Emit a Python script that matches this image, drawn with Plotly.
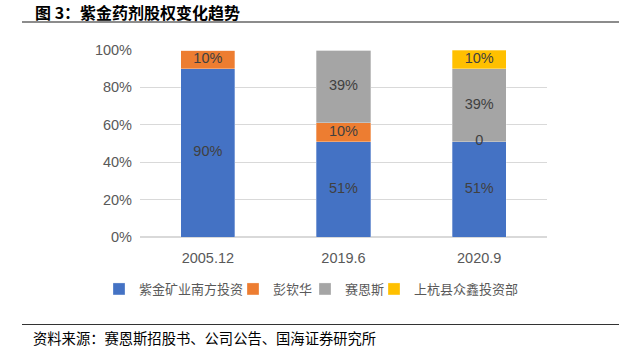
import plotly.graph_objects as go

categories = ["2005.12", "2019.6", "2020.9"]
series_names = ["紫金矿业南方投资", "彭钦华", "赛恩斯", "上杭县众鑫投资部"]
s_zijin = [90, 51, 51]
s_peng = [10, 10, 0]
s_sains = [0, 39, 39]
s_shanghang = [0, 0, 10]
colors = ["#4472C4", "#ED7D31", "#A5A5A5", "#FFC000"]
title_text = "图 3：紫金药剂股权变化趋势"
source_text = "资料来源：赛恩斯招股书、公司公告、国海证券研究所"

series_vals = [s_zijin, s_peng, s_sains, s_shanghang]

W, H = 628, 352
ml, mr, mt, mb = 140, 81, 50, 115
PW, PH = W - ml - mr, H - mt - mb


def px2x(p):
    return (p - ml) / PW


def py2y(p):
    return (H - mb - p) / PH


legend_ids = ["legend", "legend2", "legend3", "legend4"]
legend_left_px = [99, 233, 305, 374]

fig = go.Figure()
for name, vals, col, lid in zip(series_names, series_vals, colors, legend_ids):
    fig.add_trace(go.Bar(
        x=categories, y=vals, name=name, legend=lid,
        marker=dict(color=col, line=dict(color="rgba(255,255,255,0.6)", width=0.5)),
        width=0.4, hoverinfo="skip"))

# segment labels (the zero orange share of 2020.9 is labelled "0" as in the source)
base = [0, 0, 0]
lx, ly, lt = [], [], []
for si, vals in enumerate(series_vals):
    for i, v in enumerate(vals):
        show = v > 0 or (si == 1 and base[i] > 0 and series_vals[3][i] > 0)
        if show:
            lx.append(categories[i])
            ly.append(base[i] + v / 2)
            lt.append(f"{v}%" if v > 0 else "0")
        base[i] += v

fig.add_trace(go.Scatter(x=lx, y=ly, text=lt, mode="text", showlegend=False,
                         textfont=dict(family="Arial, Liberation Sans, sans-serif", size=14.5, color="#404040"),
                         hoverinfo="skip"))

legend_font = dict(family="Noto Sans CJK SC", size=13, color="#595959")
layout_legends = {}
for lid, lpx in zip(legend_ids, legend_left_px):
    layout_legends[lid] = dict(orientation="h", x=px2x(lpx), xanchor="left",
                               y=py2y(289), yanchor="middle", font=legend_font,
                               itemwidth=30, itemclick=False, bgcolor="rgba(0,0,0,0)")

fig.update_layout(
    width=W, height=H, barmode="stack",
    margin=dict(l=ml, r=mr, t=mt, b=mb),
    paper_bgcolor="white", plot_bgcolor="white",
    showlegend=True,
    font=dict(family="Arial, Liberation Sans, sans-serif"),
    xaxis=dict(showgrid=False, showline=False, ticks="", ticklabelstandoff=10,
               tickfont=dict(size=14.5, color="#595959")),
    yaxis=dict(range=[0, 100], dtick=20, ticksuffix="%", showgrid=True, gridcolor="#D9D9D9",
               gridwidth=1, zeroline=True, zerolinecolor="#D9D9D9", showline=False, ticks="",
               ticklabelstandoff=7, tickfont=dict(size=14.5, color="#595959")),
    **layout_legends,
)

fig.add_annotation(text="<b>" + title_text + "</b>", xref="paper", yref="paper",
                   x=px2x(33), y=py2y(12),
                   xanchor="left", yanchor="middle", showarrow=False,
                   font=dict(family="Noto Sans CJK SC", size=16, color="#000000"))
fig.add_annotation(text=source_text, xref="paper", yref="paper",
                   x=px2x(31), y=py2y(337),
                   xanchor="left", yanchor="middle", showarrow=False,
                   font=dict(family="Noto Sans CJK SC", size=14.3, color="#000000"))

fig.add_shape(type="line", xref="paper", yref="paper", x0=px2x(22), x1=px2x(619),
              y0=py2y(22), y1=py2y(22), line=dict(color="#666666", width=1.5))
fig.add_shape(type="line", xref="paper", yref="paper", x0=px2x(22), x1=px2x(619),
              y0=py2y(324.5), y1=py2y(324.5), line=dict(color="#333333", width=1.2))

fig.write_html("out.html")
